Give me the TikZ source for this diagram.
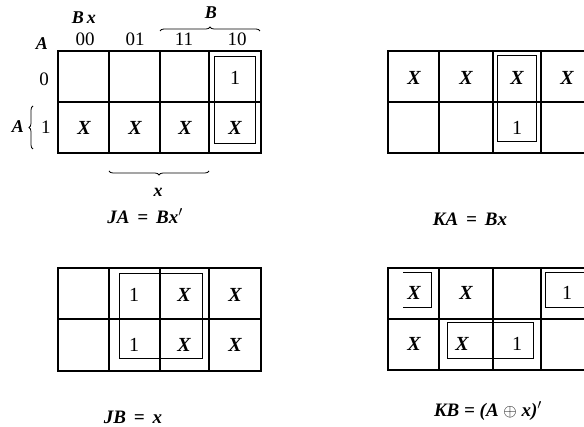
\documentclass[tikz,border=0pt]{standalone}
\usepackage{fontspec}
\setmainfont{Liberation Serif}
\usetikzlibrary{decorations.pathreplacing}
\tikzset{
  outer/.style={line width=1.8pt},
  vline/.style={line width=1.4pt},
  hline/.style={line width=1.1pt},
  kloop/.style={line width=0.7pt},
  cell/.style={inner sep=0pt, font=\fontsize{20}{20}\selectfont},
  cellx/.style={cell, font=\fontsize{20}{20}\selectfont\itshape\bfseries},
  hdr/.style={inner sep=0pt, font=\fontsize{19}{19}\selectfont},
  lab/.style={inner sep=0pt, font=\fontsize{18}{18}\selectfont\bfseries\itshape},
  eqn/.style={inner sep=0pt, font=\fontsize{19}{19}\selectfont\bfseries\itshape},
  bracedec/.style={decorate, decoration={brace, amplitude=4pt}, line width=0.8pt},
}
\begin{document}
\begin{tikzpicture}[x=1pt,y=-1pt]
\useasboundingbox (0,0) rectangle (584,427);
\clip (0,0) rectangle (584,427);

% ---------- map JA (top left) ----------
\draw[vline] (109,51) -- (109,153) (160,51) -- (160,153) (209,51) -- (209,153);
\draw[hline] (58,102) -- (261,102);
\draw[outer] (58,51) rectangle (261,153);
\draw[kloop] (214,56) rectangle (255,143);
\node[cell]  (ja04) at (235,78) {1};
\node[cellx] (ja11) at (84,128) {X};
\node[cellx] (ja12) at (135,128) {X};
\node[cellx] (ja13) at (185,128) {X};
\node[cellx] (ja14) at (235,128) {X};
% headers
\node[lab] (hbx) at (84,18) {B\,x};
\node[lab] (hA)  at (42,44) {A};
\node[hdr] (h00) at (85,39) {00};
\node[hdr] (h01) at (135,39) {01};
\node[hdr] (h11) at (184,39) {11};
\node[hdr] (h10) at (237,39) {10};
\node[hdr] (r0)  at (44,79) {0};
\node[hdr] (r1)  at (46,127) {1};
\node[lab] (hB)  at (211,13) {B};
\node[lab] (rA)  at (18,127) {A};
\node[lab] (bx)  at (158,192) {x};
\coordinate (bBl) at (160,31);
\coordinate (bBr) at (260,31);
\draw[bracedec] (bBl) -- (bBr);
\coordinate (bAb) at (33,149);
\coordinate (bAt) at (33,106);
\draw[bracedec] (bAb) -- (bAt);
\coordinate (bxl) at (109,171);
\coordinate (bxr) at (209,171);
\draw[bracedec, decoration={brace, amplitude=4pt, mirror}] (bxl) -- (bxr);
\node[eqn] (eqja) at (145,216) {JA\,\ =\ \,Bx$'$};

% ---------- map KA (top right) ----------
\draw[vline] (439,51) -- (439,153) (493,51) -- (493,153) (541,51) -- (541,153);
\draw[hline] (388,102) -- (592,102);
\draw[outer] (388,51) rectangle (592,153);
\draw[kloop] (497,55) rectangle (536,141);
\node[cellx] (ka01) at (414,78) {X};
\node[cellx] (ka02) at (466,78) {X};
\node[cellx] (ka03) at (517,78) {X};
\node[cellx] (ka04) at (567,78) {X};
\node[cell]  (ka13) at (517,128) {1};
\node[eqn] (eqka) at (470,219) {KA\,\ =\ \,Bx};

% ---------- map JB (bottom left) ----------
\draw[vline] (109,268) -- (109,371) (160,268) -- (160,371) (209,268) -- (209,371);
\draw[hline] (58,319) -- (261,319);
\draw[outer] (58,268) rectangle (261,371);
\draw[kloop] (119,273) rectangle (202,358);
\node[cell]  (jb02) at (134,295) {1};
\node[cellx] (jb03) at (184,295) {X};
\node[cellx] (jb04) at (235,295) {X};
\node[cell]  (jb12) at (134,345) {1};
\node[cellx] (jb13) at (184,345) {X};
\node[cellx] (jb14) at (235,345) {X};
\node[eqn] (eqjb) at (133,417) {JB\,\ =\ \,x};

% ---------- map KB (bottom right) ----------
\draw[vline] (439,268) -- (439,370) (493,268) -- (493,370) (541,268) -- (541,370);
\draw[hline] (388,319) -- (592,319);
\draw[outer] (388,268) rectangle (592,370);
\draw[kloop] (403,272) -- (431,272) -- (431,307) -- (403,307);
\draw[kloop] (592,272) -- (545,272) -- (545,307) -- (592,307);
\draw[kloop] (447,322) rectangle (533,358);
\node[cellx] (kb01) at (414,293) {X};
\node[cellx] (kb02) at (466,293) {X};
\node[cell]  (kb04) at (567,293) {1};
\node[cellx] (kb11) at (414,344) {X};
\node[cellx] (kb12) at (462,344) {X};
\node[cell]  (kb13) at (517,344) {1};
\node[eqn] (eqkb) at (488,411) {KB\ =\ (A\ $\oplus$\ x)$'$};
\end{tikzpicture}
\end{document}
